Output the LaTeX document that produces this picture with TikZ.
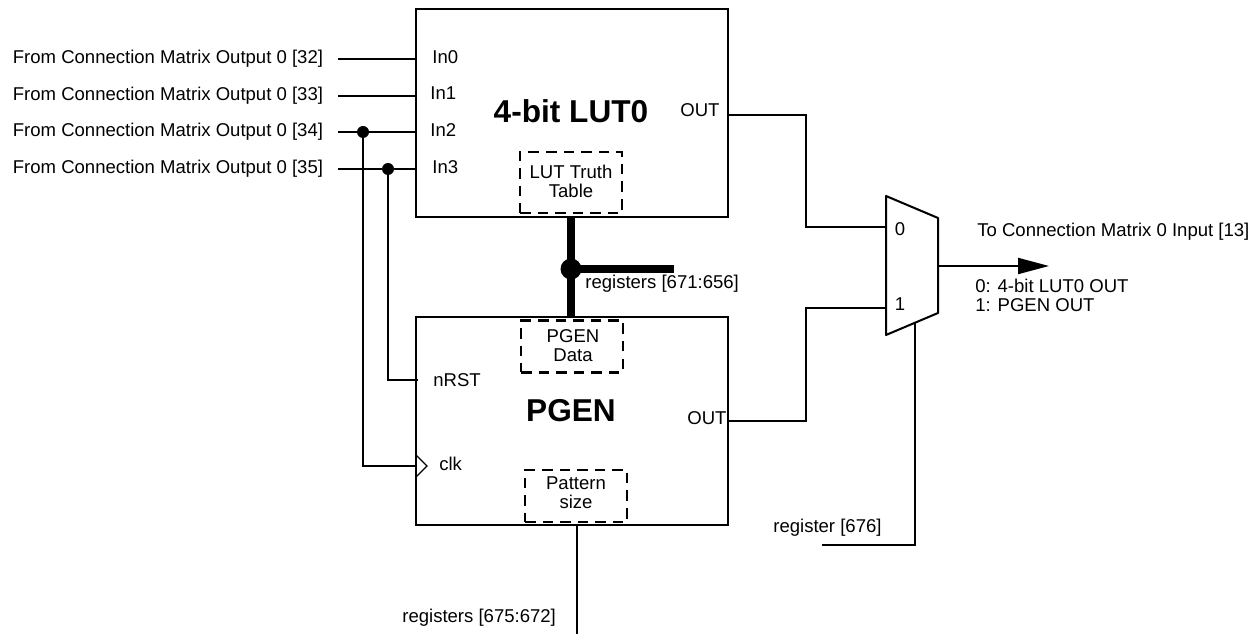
\documentclass[tikz,border=0pt]{standalone}
\usepackage{fontspec}
\setmainfont{Liberation Sans}
\usepackage{tikz}
\usetikzlibrary{arrows.meta,positioning,calc}
\newcommand{\smalltxt}{\fontsize{10.55}{10.8}\selectfont}
\newcommand{\bigtxt}{\fontsize{18}{20}\selectfont\bfseries}

\begin{document}
\begin{tikzpicture}[
  x=0.02cm, y=-0.02cm,
  wire/.style={line width=1.15pt},
  box/.style={draw, line width=1.15pt, minimum width=6.24cm, minimum height=4.16cm,
    inner sep=0pt, outer sep=0pt},
  dashbox/.style={draw, line width=1.15pt, dash pattern=on 6pt off 4pt, minimum width=2.04cm,
    minimum height=1.04cm, inner sep=0pt, outer sep=0pt},
  src/.style={anchor=east, font=\smalltxt, inner xsep=0.3cm, inner ysep=0pt, outer sep=0pt},
  lbl/.style={anchor=west, font=\smalltxt, inner sep=0pt, align=left},
  ctr/.style={font=\smalltxt, inner sep=0pt, align=center},
  title/.style={font=\bigtxt, inner sep=0pt},
  dot/.style={circle, fill, inner sep=0pt, outer sep=0pt, minimum size=0.24cm},
  bus/.style={line width=4.5pt},
  >={Triangle[length=0.62cm, width=0.32cm]}
]
\useasboundingbox (0,0) rectangle (1260,634);

% 4-bit LUT0
\node[box] (lut) at (572,113) {};
\node[title] (luttitle) at (571,111) {4-bit LUT0};
\node[dashbox, minimum height=1.22cm] (truth) at (571,182.5) {};
\node[ctr] (truthtxt) at (571,181) {LUT Truth\\Table};
\node[lbl] (in0) at (432,57) {In0};
\node[lbl] (in1) at (430,93) {In1};
\node[lbl] (in2) at (430,130) {In2};
\node[lbl] (in3) at (432,167) {In3};
\node[lbl] (lutout) at (680,110) {OUT};

% PGEN
\node[box] (pgen) at (572,421) {};
\node[title] (pgentitle) at (571,411) {PGEN};
\node[dashbox] (pdata) at (572,346.5) {};
\node[ctr] (pdatatxt) at (573,346) {PGEN\\Data};
\node[dashbox] (psize) at (576,496) {};
\node[ctr] (psizetxt) at (576,493) {Pattern\\size};
\node[lbl] (nrst) at (433,380) {nRST};
\node[lbl] (clk) at (439,464) {clk};
\node[lbl] (pgenout) at (687,418) {OUT};

% Connection matrix inputs
\node[src] (src0) at (338,59) {From Connection Matrix Output 0 [32]};
\node[src] (src1) at (338,96) {From Connection Matrix Output 0 [33]};
\node[src] (src2) at (338,132) {From Connection Matrix Output 0 [34]};
\node[src] (src3) at (338,169) {From Connection Matrix Output 0 [35]};
\draw[wire] (src0.east) -- (src0.east -| lut.west);
\draw[wire] (src1.east) -- (src1.east -| lut.west);
\draw[wire] (src2.east) -- (src2.east -| lut.west);
\draw[wire] (src3.east) -- (src3.east -| lut.west);

% Taps to nRST and clk
\node[dot] (dot2) at (363,132) {};
\node[dot] (dot3) at (388,169) {};
\coordinate (rstpin) at (418,380);
\coordinate (clkpin) at (416,466);
\draw[wire] (dot3) |- (rstpin);
\draw[wire] (dot2) |- (clkpin);
\draw[line width=0.7pt] (416,455) -- (427,466) -- (416,477);

% Register bus
\node[dot, minimum size=0.42cm] (busdot) at (571,269) {};
\coordinate (busend) at (674,269);
\draw[bus] (lut.south -| busdot) -- (pgen.north -| busdot);
\draw[bus] (busdot.center) -- (busend);
\node[lbl] (regbus) at (585,284) {registers [671:656]};

% Pattern size registers
\node[lbl] (regsize) at (402,618) {registers [675:672]};
\coordinate (sizeend) at (577,634);
\draw[wire] (sizeend) -- (sizeend |- pgen.south);

% Mux
\coordinate (mux0) at (886,227);
\coordinate (mux1) at (886,308);
\coordinate (muxout) at (938,266);
\coordinate (muxsel) at (915,322);
\draw[wire, line join=round] (886,196) -- (938,218) -- (938,313) -- (886,335) -- cycle;
\node[ctr] (mux0txt) at (900,229) {0};
\node[ctr] (mux1txt) at (900,304) {1};
\draw[wire] (lut.east |- lutout) ++(0,5) -- ++(78,0) |- (mux0);
\draw[wire] (pgen.east) -- ++(78,0) |- (mux1);

% Output
\coordinate (outend) at (1049,266);
\draw[wire, ->] (muxout) -- (outend);
\node[lbl] (outtxt) at (977,232) {To Connection Matrix 0 Input [13]};
\node[lbl] (outsel) at (975,295) {0: 4-bit LUT0 OUT\\1: PGEN OUT};

% Select
\node[lbl] (regsel) at (773,528) {register [676]};
\coordinate (selend) at (822,545);
\draw[wire] (muxsel) |- (selend);
\end{tikzpicture}
\end{document}
